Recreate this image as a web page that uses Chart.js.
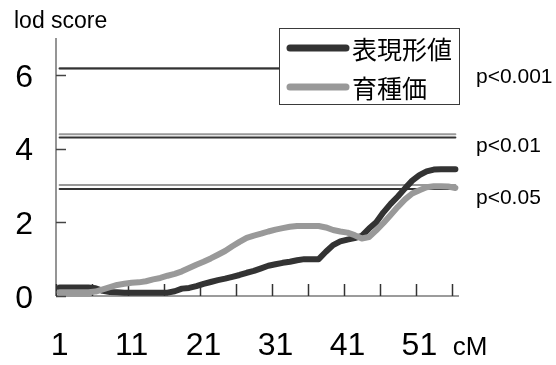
<!DOCTYPE html>
<html>
<head>
<meta charset="utf-8">
<script src="https://cdn.jsdelivr.net/npm/chart.js@4/dist/chart.umd.min.js"></script>
<style>
  html, body { margin: 0; padding: 0; background: #ffffff; }
  #wrap { width: 556px; height: 365px; }
</style>
</head>
<body>
<div id="wrap"><canvas id="lod" width="556" height="365"></canvas></div>
<script>
// Map positions (cM), one LOD value per marker position
const categories = [1,2,3,4,5,6,7,8,9,10,11,12,13,14,15,16,17,18,19,20,21,22,23,24,25,26,27,28,
  29,30,31,32,33,34,35,36,37,38,39,40,41,42,43,44,45,46,47,48,49,50,51,52,53,54,55,56];

// 表現形値 (phenotypic value) LOD profile
const phenotypeLod = [0.23,0.23,0.23,0.23,0.23,0.21,0.14,0.11,0.10,0.09,0.09,0.09,0.09,0.09,0.09,0.09,
  0.13,0.20,0.22,0.27,0.33,0.38,0.43,0.47,0.52,0.57,0.63,0.68,0.75,0.82,0.86,0.90,0.93,0.97,1.00,1.00,
  1.00,1.20,1.38,1.48,1.53,1.57,1.63,1.83,2.00,2.27,2.50,2.70,2.92,3.13,3.28,3.38,3.43,3.44,3.44,3.44];

// 育種価 (breeding value) LOD profile
const breedingLod = [0.10,0.10,0.10,0.10,0.10,0.12,0.18,0.24,0.30,0.33,0.36,0.37,0.40,0.45,0.49,0.55,
  0.60,0.67,0.76,0.85,0.93,1.02,1.12,1.22,1.35,1.47,1.58,1.64,1.69,1.75,1.80,1.84,1.88,1.90,1.90,1.90,
  1.90,1.86,1.79,1.75,1.72,1.65,1.56,1.60,1.78,1.98,2.20,2.42,2.62,2.78,2.87,2.95,2.98,2.98,2.97,2.93];

// Significance thresholds from permutation tests
const thresholdLabels = ['p<0.001', 'p<0.01', 'p<0.05'];
const phenotypeThresholds = [6.17, 4.30, 2.90];
const breedingThresholds = [6.18, 4.39, 3.01];

// Axis labelling
const xTickLabels = [1, 11, 21, 31, 41, 51];
const xTickMarks = [0.5, 5.5, 10.5, 15.5, 20.5, 25.5, 30.5, 35.5, 40.5, 45.5, 50.5, 55.5];
const yTickLabels = [0, 2, 4, 6];
const seriesNames = ['表現形値', '育種価'];

const DARK = '#333333';
const LIGHT = '#999999';
const LATIN = "'Liberation Sans', Arial, sans-serif";
const CJK = "'Noto Sans CJK JP', sans-serif";

const profile = (vals) => categories.map((c, i) => ({ x: c, y: vals[i] }));
const flat = (v) => [{ x: categories[0], y: v }, { x: categories[categories.length - 1], y: v }];

// Chart.js paints lower dataset indices on top: profiles first, then thresholds
const datasets = [
  { label: seriesNames[1], data: profile(breedingLod), borderColor: LIGHT, borderWidth: 6 },
  { label: seriesNames[0], data: profile(phenotypeLod), borderColor: DARK, borderWidth: 6 }
];
thresholdLabels.forEach((lab, i) => {
  datasets.push({ label: lab + ' 表現形値', data: flat(phenotypeThresholds[i]), borderColor: DARK, borderWidth: 2 });
  datasets.push({ label: lab + ' 育種価', data: flat(breedingThresholds[i]), borderColor: LIGHT, borderWidth: 2 });
});
datasets.forEach(d => {
  d.pointRadius = 0;
  d.borderCapStyle = 'round';
  d.borderJoinStyle = 'round';
  d.tension = 0;
  d.fill = false;
  d.clip = false;
});

// Axes, tick marks, texts and the boxed legend are painted with the chart's own scales
const decor = {
  id: 'decor',
  beforeDatasetsDraw(chart) {
    const { ctx } = chart;
    const xs = chart.scales.x, ys = chart.scales.y;
    const x0 = xs.getPixelForValue(xs.min), x1 = xs.getPixelForValue(xs.max);
    const y0 = ys.getPixelForValue(0), yTop = ys.getPixelForValue(ys.max);
    ctx.save();
    ctx.lineCap = 'butt';
    // value axis
    ctx.strokeStyle = '#8a8a8a';
    ctx.lineWidth = 1.8;
    ctx.beginPath(); ctx.moveTo(x0, yTop); ctx.lineTo(x0, y0); ctx.stroke();
    // category axis
    ctx.strokeStyle = '#7a7a7a';
    ctx.lineWidth = 1.6;
    ctx.beginPath(); ctx.moveTo(x0, y0); ctx.lineTo(x1, y0); ctx.stroke();
    // inward tick marks on the value axis
    ctx.strokeStyle = '#444444';
    ctx.lineWidth = 1.5;
    yTickLabels.forEach(v => {
      const py = Math.round(ys.getPixelForValue(v)) + 0.5;
      ctx.beginPath(); ctx.moveTo(x0, py); ctx.lineTo(x0 + 10, py); ctx.stroke();
    });
    // upward tick marks between category groups
    ctx.strokeStyle = '#333333';
    xTickMarks.forEach(v => {
      const px = Math.round(xs.getPixelForValue(v)) + 0.5;
      ctx.beginPath(); ctx.moveTo(px, y0); ctx.lineTo(px, y0 - 12); ctx.stroke();
    });
    ctx.restore();
  },
  afterDatasetsDraw(chart) {
    const { ctx } = chart;
    const xs = chart.scales.x, ys = chart.scales.y;
    ctx.save();
    ctx.fillStyle = '#000000';

    // value axis labels
    ctx.font = '32px ' + LATIN;
    ctx.textAlign = 'right';
    ctx.textBaseline = 'middle';
    yTickLabels.forEach(v => ctx.fillText(String(v), 33, ys.getPixelForValue(v) + 3));

    // category axis labels
    ctx.textAlign = 'center';
    xTickLabels.forEach(v => ctx.fillText(String(v), xs.getPixelForValue(v), 346));
    ctx.font = '26px ' + LATIN;
    ctx.fillText('cM', 470, 348);

    // axis title
    ctx.font = '23px ' + LATIN;
    ctx.textAlign = 'left';
    ctx.textBaseline = 'alphabetic';
    ctx.fillText('lod score', 14, 28);

    // threshold labels
    ctx.font = '21px ' + LATIN;
    ctx.textBaseline = 'middle';
    thresholdLabels.forEach((lab, i) => {
      ctx.fillText(lab, 476, ys.getPixelForValue(phenotypeThresholds[i]) + 9);
    });

    // legend box
    const bx = 279.5, by = 28.5, bw = 180, bh = 76;
    ctx.fillStyle = '#ffffff';
    ctx.fillRect(bx, by, bw, bh);
    ctx.strokeStyle = '#3a3a3a';
    ctx.lineWidth = 1;
    ctx.strokeRect(bx, by, bw, bh);
    const rows = [
      { name: seriesNames[0], color: DARK, y: 48 },
      { name: seriesNames[1], color: LIGHT, y: 87 }
    ];
    ctx.font = '25px ' + CJK;
    ctx.textAlign = 'left';
    ctx.textBaseline = 'middle';
    rows.forEach(r => {
      ctx.strokeStyle = r.color;
      ctx.lineWidth = 7;
      ctx.lineCap = 'round';
      ctx.beginPath(); ctx.moveTo(290, r.y); ctx.lineTo(346, r.y); ctx.stroke();
      ctx.fillStyle = '#000000';
      ctx.fillText(r.name, 352, r.y + 1);
    });
    ctx.restore();
  }
};

new Chart(document.getElementById('lod'), {
  type: 'line',
  data: { datasets },
  options: {
    responsive: false,
    animation: false,
    events: [],
    layout: { padding: { left: 56, right: 97, top: 38, bottom: 69 } },
    plugins: { legend: { display: false }, tooltip: { enabled: false } },
    scales: {
      x: { type: 'linear', min: 0.5, max: 56.5, display: false },
      y: { type: 'linear', min: 0, max: 7, display: false }
    }
  },
  plugins: [decor]
});
</script>
</body>
</html>
